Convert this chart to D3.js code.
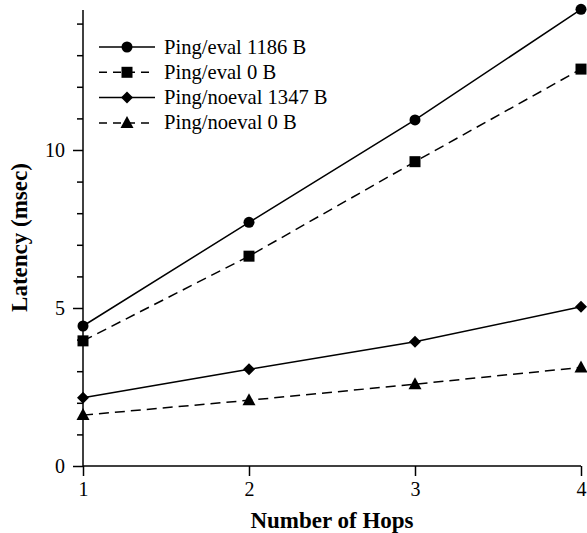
<!DOCTYPE html>
<html><head><meta charset="utf-8">
<script src="https://cdn.jsdelivr.net/npm/d3@7"></script>
<style>body{margin:0;background:#fff}svg{display:block}</style>
</head><body>
<svg id="c" width="587" height="533"></svg>
<script>
const hops = [1, 2, 3, 4];
const seriesNames = ["Ping/eval 1186 B", "Ping/eval 0 B", "Ping/noeval 1347 B", "Ping/noeval 0 B"];
const evalFull = [4.43, 7.71, 10.95, 14.45];
const evalZero = [3.96, 6.64, 9.63, 12.56];
const noevalFull = [2.16, 3.06, 3.93, 5.04];
const noevalZero = [1.61, 2.08, 2.59, 3.12];
const yMajorTicks = [0, 5, 10];
const yMinorTicks = [1, 2, 3, 4, 6, 7, 8, 9, 11, 12, 13, 14];
const xTicks = [1, 2, 3, 4];
const markers = ["circle", "square", "diamond", "triangle"];
const dashed = [false, true, false, true];

const FONT = '"Liberation Serif", "Times New Roman", Times, serif';
const svg = d3.select("#c");
const x = d3.scaleLinear().domain([1, 4]).range([83, 581]);
const y = d3.scaleLinear().domain([0, 14.43]).range([466, 10]);

const data = [evalFull, evalZero, noevalFull, noevalZero];

// axes
const gy = svg.append("g").attr("transform", "translate(83,0)")
  .call(d3.axisLeft(y).tickValues(yMajorTicks).tickSize(10).tickPadding(8));
gy.select(".domain").attr("d", `M0,${y.range()[0]}V${y.range()[1]}`);
const gym = svg.append("g").attr("transform", "translate(83,0)")
  .call(d3.axisLeft(y).tickValues(yMinorTicks).tickSize(6).tickFormat(""));
gym.select(".domain").remove();
const gx = svg.append("g").attr("transform", "translate(0,466)")
  .call(d3.axisBottom(x).tickValues(xTicks).tickSize(10).tickPadding(6).tickFormat(d3.format("d")));
gx.select(".domain").attr("d", `M${x.range()[0]},0H${x.range()[1]}`);
svg.selectAll("g").attr("font-family", FONT).attr("font-size", 20);
svg.selectAll(".tick line, .domain").attr("stroke", "#000").attr("stroke-width", 1.5);
svg.selectAll(".tick text").attr("fill", "#000");

// titles
svg.append("text").attr("x", 332).attr("y", 528).attr("text-anchor", "middle")
  .attr("font-family", FONT).attr("font-size", 23).attr("font-weight", "bold").text("Number of Hops");
svg.append("text").attr("transform", "translate(27,237.5) rotate(-90)").attr("text-anchor", "middle")
  .attr("font-family", FONT).attr("font-size", 23).attr("font-weight", "bold").text("Latency (msec)");

function drawMarker(g, type, cx, cy) {
  if (type === "circle") g.append("circle").attr("cx", cx).attr("cy", cy).attr("r", 5.5).attr("fill", "#000");
  else if (type === "square") g.append("rect").attr("x", cx - 5.5).attr("y", cy - 5.5).attr("width", 11).attr("height", 11).attr("fill", "#000");
  else if (type === "diamond") g.append("path").attr("d", `M${cx},${cy-6}L${cx+6},${cy}L${cx},${cy+6}L${cx-6},${cy}Z`).attr("fill", "#000");
  else g.append("path").attr("d", `M${cx},${cy-7}L${cx+6.5},${cy+5}L${cx-6.5},${cy+5}Z`).attr("fill", "#000");
}

const line = d3.line().x((d, i) => x(hops[i])).y(d => y(d));
data.forEach((vals, si) => {
  const g = svg.append("g");
  g.append("path").attr("d", line(vals)).attr("fill", "none").attr("stroke", "#000")
    .attr("stroke-width", 1.5).attr("stroke-dasharray", dashed[si] ? "10,6" : null);
  vals.forEach((v, i) => drawMarker(g, markers[si], x(hops[i]), y(v)));
});

// legend
seriesNames.forEach((name, i) => {
  const ly = 47 + i * 25.3;
  const g = svg.append("g");
  g.append("line").attr("x1", 99).attr("x2", 155).attr("y1", ly).attr("y2", ly)
    .attr("stroke", "#000").attr("stroke-width", 1.5).attr("stroke-dasharray", dashed[i] ? "8,6" : null);
  drawMarker(g, markers[i], 127, ly);
  g.append("text").attr("x", 164).attr("y", ly + 6.5).attr("font-family", FONT).attr("font-size", 20.6).text(name);
});
</script>
</body></html>
